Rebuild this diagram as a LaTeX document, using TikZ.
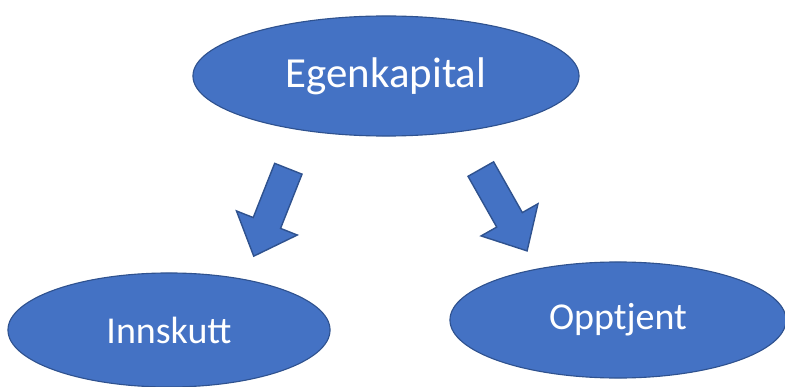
\documentclass[tikz,border=0pt]{standalone}
\usepackage{fontspec}
\setmainfont{Carlito}
\usetikzlibrary{shapes.geometric, shapes.arrows}
\definecolor{boxblue}{HTML}{4472C4}
\definecolor{edgeblue}{HTML}{2F528F}
\begin{document}
\begin{tikzpicture}[
        x=0.025cm, y=-0.025cm,
        oval/.style={ellipse, inner sep=0pt, fill=boxblue, draw=edgeblue,
            line width=0.8pt, text=white, font=\fontsize{27}{30}\selectfont},
        blockarrow/.style={single arrow, inner xsep=0pt, inner ysep=0.35cm,
            fill=boxblue, draw=edgeblue, line width=1pt,
            single arrow head extend=0.45cm, single arrow tip angle=85,
            minimum height=2.35cm},
    ]
        \useasboundingbox (0,0) rectangle (785,387);
        \node (equity) [oval, minimum width=9.65cm, minimum height=3cm,
            font=\fontsize{30.5}{33}\selectfont] at (386,76) {Egenkapital};
        \node (paidin) [oval, minimum width=8.05cm, minimum height=2.85cm] at (169,330) {Innskutt};
        \node (earned) [oval, minimum width=8.4cm, minimum height=2.9cm] at (618,320) {Opptjent};

        \node (arrowleft) [blockarrow, rotate=248.4] at (274,205) {};
        \node (arrowright) [blockarrow, rotate=299.5] at (500,203) {};
    \end{tikzpicture}
\end{document}
